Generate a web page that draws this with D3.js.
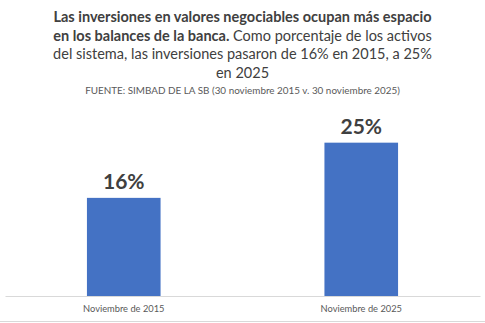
<!DOCTYPE html>
<html>
<head>
<meta charset="utf-8">
<script src="https://cdn.jsdelivr.net/npm/d3@7"></script>
<style>
  body { margin: 0; background: #fff; }
  svg { display: block; font-family: Lato, "Open Sans", sans-serif; }
  .title { fill: #404040; font-size: 14.5px; }
  .source { fill: #595959; font-size: 9.9px; }
  .value { fill: #404040; font-size: 21px; font-weight: bold; }
  .axis text { fill: #595959; font-size: 9.3px; }
</style>
</head>
<body>
<div id="chart"></div>
<script>
let W = 485, H = 323;
let margin = {top: 112, right: 5, bottom: 27, left: 5},
    width = W - margin.left - margin.right,
    height = H - margin.top - margin.bottom;

let categories = ["Noviembre de 2015", "Noviembre de 2025"];
let values = [16, 25];
let valueLabels = ["16%", "25%"];

// title lines: [bold part, normal part]
let titleLines = [
    ["Las inversiones en valores negociables ocupan más espacio", ""],
    ["en los balances de la banca.", " Como porcentaje de los activos"],
    ["", "del sistema, las inversiones pasaron de 16% en 2015, a 25%"],
    ["", "en 2025"]
];
let sourceText = "FUENTE: SIMBAD DE LA SB (30 noviembre 2015 v. 30 noviembre 2025)";

let svg = d3.select("#chart").append("svg")
    .attr("width", W)
    .attr("height", H);

// title block
let title = svg.append("text")
    .attr("class", "title")
    .attr("text-anchor", "middle");
titleLines.forEach(function (l, i) {
    let t = title.append("tspan")
        .attr("x", W / 2)
        .attr("y", 22 + i * 18.5);
    if (l[0]) t.append("tspan").attr("font-weight", "bold").text(l[0]);
    if (l[1]) t.append("tspan").text(l[1]);
});

svg.append("text")
    .attr("class", "source")
    .attr("text-anchor", "middle")
    .attr("x", W / 2)
    .attr("y", 94)
    .text(sourceText);

let g = svg.append("g")
    .attr("transform", "translate(" + margin.left + "," + margin.top + ")");

let x = d3.scaleBand()
    .domain(categories)
    .range([0, width])
    .paddingInner(0.69)
    .paddingOuter(0.345);

let y = d3.scaleLinear()
    .domain([0, 30])
    .range([height, 0]);

g.selectAll("rect.bar")
    .data(values)
    .enter().append("rect")
    .attr("class", "bar")
    .attr("x", (d, i) => x(categories[i]))
    .attr("y", (d) => y(d))
    .attr("width", x.bandwidth())
    .attr("height", (d) => height - y(d))
    .attr("fill", "#4472c4");

g.selectAll("text.value")
    .data(values)
    .enter().append("text")
    .attr("class", "value")
    .attr("text-anchor", "middle")
    .attr("x", (d, i) => x(categories[i]) + x.bandwidth() / 2)
    .attr("y", (d) => y(d) - 9)
    .text((d, i) => valueLabels[i]);

// x axis
let xAxis = g.append("g")
    .attr("class", "axis")
    .attr("transform", "translate(0," + height + ")")
    .call(d3.axisBottom(x).tickSize(0).tickPadding(9));
xAxis.select(".domain").attr("stroke", "#d9d9d9").attr("stroke-width", 1);
xAxis.selectAll("text").attr("font-family", "Lato, 'Open Sans', sans-serif");

// chart frame bottom edge
svg.append("line")
    .attr("x1", 0).attr("x2", W)
    .attr("y1", H - 1.5).attr("y2", H - 1.5)
    .attr("stroke", "#d9d9d9");
</script>
</body>
</html>
